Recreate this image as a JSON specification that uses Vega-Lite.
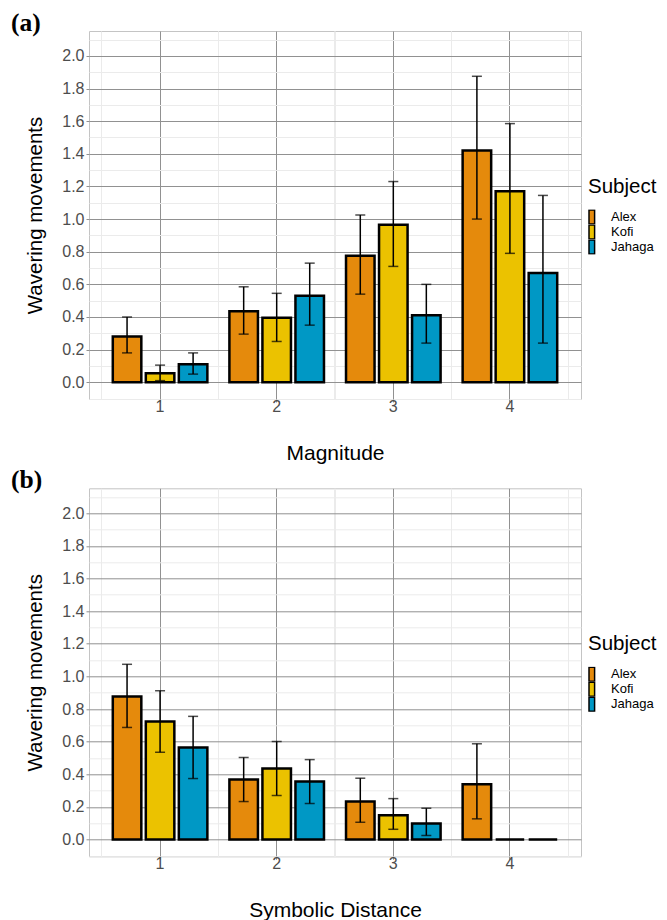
{
  "$schema": "https://vega.github.io/schema/vega-lite/v6.json",
  "padding": {"left": 10, "top": 10, "right": 0, "bottom": 0},
  "background": "white",
  "datasets": {
    "mag": [
      {"level": "1", "subject": "Alex", "value": 0.28, "lo": 0.18, "hi": 0.40},
      {"level": "1", "subject": "Kofi", "value": 0.055, "lo": 0.01, "hi": 0.105},
      {"level": "1", "subject": "Jahaga", "value": 0.11, "lo": 0.05, "hi": 0.18},
      {"level": "2", "subject": "Alex", "value": 0.435, "lo": 0.295, "hi": 0.585},
      {"level": "2", "subject": "Kofi", "value": 0.395, "lo": 0.25, "hi": 0.545},
      {"level": "2", "subject": "Jahaga", "value": 0.53, "lo": 0.35, "hi": 0.73},
      {"level": "3", "subject": "Alex", "value": 0.775, "lo": 0.54, "hi": 1.025},
      {"level": "3", "subject": "Kofi", "value": 0.965, "lo": 0.71, "hi": 1.23},
      {"level": "3", "subject": "Jahaga", "value": 0.41, "lo": 0.24, "hi": 0.60},
      {"level": "4", "subject": "Alex", "value": 1.42, "lo": 1.00, "hi": 1.875},
      {"level": "4", "subject": "Kofi", "value": 1.17, "lo": 0.79, "hi": 1.585},
      {"level": "4", "subject": "Jahaga", "value": 0.67, "lo": 0.24, "hi": 1.145}
    ],
    "dist": [
      {"level": "1", "subject": "Alex", "value": 0.877, "lo": 0.687, "hi": 1.074},
      {"level": "1", "subject": "Kofi", "value": 0.724, "lo": 0.535, "hi": 0.912},
      {"level": "1", "subject": "Jahaga", "value": 0.564, "lo": 0.374, "hi": 0.755},
      {"level": "2", "subject": "Alex", "value": 0.368, "lo": 0.233, "hi": 0.503},
      {"level": "2", "subject": "Kofi", "value": 0.436, "lo": 0.27, "hi": 0.601},
      {"level": "2", "subject": "Jahaga", "value": 0.356, "lo": 0.221, "hi": 0.49},
      {"level": "3", "subject": "Alex", "value": 0.233, "lo": 0.106, "hi": 0.376},
      {"level": "3", "subject": "Kofi", "value": 0.149, "lo": 0.063, "hi": 0.251},
      {"level": "3", "subject": "Jahaga", "value": 0.098, "lo": 0.025, "hi": 0.192},
      {"level": "4", "subject": "Alex", "value": 0.339, "lo": 0.127, "hi": 0.587},
      {"level": "4", "subject": "Kofi", "value": 0, "lo": null, "hi": null},
      {"level": "4", "subject": "Jahaga", "value": 0, "lo": null, "hi": null}
    ]
  },
  "resolve": {"legend": {"color": "independent"}},
  "vconcat": [
    {
      "title": {"text": "(a)", "anchor": "start", "frame": "bounds", "font": "Liberation Serif", "fontSize": 25.5, "fontWeight": "bold", "color": "black", "baseline": "alphabetic", "offset": -25.6, "dx": -14},
      "width": 492,
      "height": 368,
      "data": {"name": "mag"},
      "resolve": {"axis": {"x": "independent", "y": "independent"}},
      "layer": [
        {
          "mark": {"type": "bar", "stroke": "black", "strokeWidth": 2.5},
          "encoding": {
            "x": {"field": "level", "type": "ordinal", "scale": {"paddingInner": 0.189, "paddingOuter": 0.204},
              "axis": {"title": "Magnitude", "labelAngle": 0, "labelFontSize": 16, "labelPadding": -4, "tickSize": 3, "titlePadding": 28, "titleFontSize": 21, "grid": true, "gridColor": "#919191", "gridWidth": 1, "orient": "bottom"}},
            "xOffset": {"field": "subject", "type": "nominal", "scale": {"domain": ["Alex", "Kofi", "Jahaga"], "paddingInner": 0.136, "paddingOuter": 0}},
            "y": {"field": "value", "type": "quantitative", "scale": {"domain": [-0.1025, 2.1525], "nice": false, "zero": false},
              "axis": {"title": "Wavering movements", "values": [0, 0.2, 0.4, 0.6, 0.8, 1.0, 1.2, 1.4, 1.6, 1.8, 2.0], "format": ".1f", "labelFontSize": 16, "labelPadding": 2, "tickSize": 3, "titleFontSize": 20.5, "titlePadding": 17, "minExtent": 27, "maxExtent": 27, "grid": true, "gridColor": "#919191", "orient": "left"}},
            "color": {"field": "subject", "type": "nominal", "scale": {"domain": ["Alex", "Kofi", "Jahaga"], "range": ["#E58A0C", "#EBC200", "#0098C5"]},
              "legend": {"title": "Subject", "orient": "none", "legendX": 499, "legendY": 146, "symbolType": "M-1,-1H-0.2V1H-1Z", "symbolSize": 196, "symbolStrokeColor": "black", "symbolStrokeWidth": 1.5, "labelOffset": 7, "rowPadding": 0, "clipHeight": 15, "titlePadding": 12, "titleFontSize": 20.5, "labelFontSize": 13}}
          }
        },
        {
          "transform": [{"filter": "datum.hi != null"}],
          "mark": {"type": "rule", "strokeWidth": 1.5, "color": "black"},
          "encoding": {
            "x": {"field": "level", "type": "ordinal", "axis": {"orient": "bottom", "labels": false, "ticks": false, "domain": false, "title": null, "grid": true, "gridColor": "#ebebeb", "bandPosition": -0.1164}},
            "xOffset": {"field": "subject", "type": "nominal"},
            "y": {"field": "lo", "type": "quantitative", "axis": {"orient": "left", "values": [-0.1, 0.1, 0.3, 0.5, 0.7, 0.9, 1.1, 1.3, 1.5, 1.7, 1.9, 2.1], "labels": false, "ticks": false, "domain": false, "title": null, "grid": true, "gridColor": "#ebebeb"}},
            "y2": {"field": "hi"}
          }
        },
        {
          "transform": [{"filter": "datum.hi != null"}],
          "mark": {"type": "tick", "thickness": 1.5, "size": 10, "color": "black"},
          "encoding": {
            "x": {"field": "level", "type": "ordinal", "axis": {"orient": "bottom", "labels": false, "ticks": false, "domain": false, "title": null, "grid": true, "gridColor": "#ebebeb", "bandPosition": 1.1164}},
            "xOffset": {"field": "subject", "type": "nominal"},
            "y": {"field": "hi", "type": "quantitative", "axis": null}
          }
        },
        {
          "transform": [{"filter": "datum.hi != null"}],
          "mark": {"type": "tick", "thickness": 1.5, "size": 10, "color": "black"},
          "encoding": {
            "x": {"field": "level", "type": "ordinal", "axis": null},
            "xOffset": {"field": "subject", "type": "nominal"},
            "y": {"field": "lo", "type": "quantitative", "axis": null}
          }
        }
      ]
    },
    {
      "title": {"text": "(b)", "anchor": "start", "frame": "bounds", "font": "Liberation Serif", "fontSize": 25.5, "fontWeight": "bold", "color": "black", "baseline": "alphabetic", "offset": -25.6, "dx": -14},
      "width": 492,
      "height": 368,
      "data": {"name": "dist"},
      "resolve": {"axis": {"x": "independent", "y": "independent"}},
      "layer": [
        {
          "mark": {"type": "bar", "stroke": "black", "strokeWidth": 2.5},
          "encoding": {
            "x": {"field": "level", "type": "ordinal", "scale": {"paddingInner": 0.189, "paddingOuter": 0.204},
              "axis": {"title": "Symbolic Distance", "labelAngle": 0, "labelFontSize": 16, "labelPadding": -4, "tickSize": 3, "titlePadding": 28, "titleFontSize": 21, "grid": true, "gridColor": "#919191", "gridWidth": 1, "orient": "bottom"}},
            "xOffset": {"field": "subject", "type": "nominal", "scale": {"domain": ["Alex", "Kofi", "Jahaga"], "paddingInner": 0.136, "paddingOuter": 0}},
            "y": {"field": "value", "type": "quantitative", "scale": {"domain": [-0.1025, 2.1525], "nice": false, "zero": false},
              "axis": {"title": "Wavering movements", "values": [0, 0.2, 0.4, 0.6, 0.8, 1.0, 1.2, 1.4, 1.6, 1.8, 2.0], "format": ".1f", "labelFontSize": 16, "labelPadding": 2, "tickSize": 3, "titleFontSize": 20.5, "titlePadding": 17, "minExtent": 27, "maxExtent": 27, "grid": true, "gridColor": "#919191", "orient": "left"}},
            "color": {"field": "subject", "type": "nominal", "scale": {"domain": ["Alex", "Kofi", "Jahaga"], "range": ["#E58A0C", "#EBC200", "#0098C5"]},
              "legend": {"title": "Subject", "orient": "none", "legendX": 499, "legendY": 146, "symbolType": "M-1,-1H-0.2V1H-1Z", "symbolSize": 196, "symbolStrokeColor": "black", "symbolStrokeWidth": 1.5, "labelOffset": 7, "rowPadding": 0, "clipHeight": 15, "titlePadding": 12, "titleFontSize": 20.5, "labelFontSize": 13}}
          }
        },
        {
          "transform": [{"filter": "datum.hi != null"}],
          "mark": {"type": "rule", "strokeWidth": 1.5, "color": "black"},
          "encoding": {
            "x": {"field": "level", "type": "ordinal", "axis": {"orient": "bottom", "labels": false, "ticks": false, "domain": false, "title": null, "grid": true, "gridColor": "#ebebeb", "bandPosition": -0.1164}},
            "xOffset": {"field": "subject", "type": "nominal"},
            "y": {"field": "lo", "type": "quantitative", "axis": {"orient": "left", "values": [-0.1, 0.1, 0.3, 0.5, 0.7, 0.9, 1.1, 1.3, 1.5, 1.7, 1.9, 2.1], "labels": false, "ticks": false, "domain": false, "title": null, "grid": true, "gridColor": "#ebebeb"}},
            "y2": {"field": "hi"}
          }
        },
        {
          "transform": [{"filter": "datum.hi != null"}],
          "mark": {"type": "tick", "thickness": 1.5, "size": 10, "color": "black"},
          "encoding": {
            "x": {"field": "level", "type": "ordinal", "axis": {"orient": "bottom", "labels": false, "ticks": false, "domain": false, "title": null, "grid": true, "gridColor": "#ebebeb", "bandPosition": 1.1164}},
            "xOffset": {"field": "subject", "type": "nominal"},
            "y": {"field": "hi", "type": "quantitative", "axis": null}
          }
        },
        {
          "transform": [{"filter": "datum.hi != null"}],
          "mark": {"type": "tick", "thickness": 1.5, "size": 10, "color": "black"},
          "encoding": {
            "x": {"field": "level", "type": "ordinal", "axis": null},
            "xOffset": {"field": "subject", "type": "nominal"},
            "y": {"field": "lo", "type": "quantitative", "axis": null}
          }
        }
      ]
    }
  ],
  "spacing": 3.3,
  "config": {
    "font": "Liberation Sans",
    "view": {"stroke": "#c4c4c4", "strokeWidth": 1},
    "axis": {"labelFont": "Liberation Sans", "titleFont": "Liberation Sans", "titleFontWeight": "normal", "titleColor": "black", "labelColor": "#4d4d4d", "tickColor": "#919191", "domain": false},
    "legend": {"titleFont": "Liberation Sans", "labelFont": "Liberation Sans", "titleFontWeight": "normal", "titleColor": "black", "labelColor": "black"}
  }
}
